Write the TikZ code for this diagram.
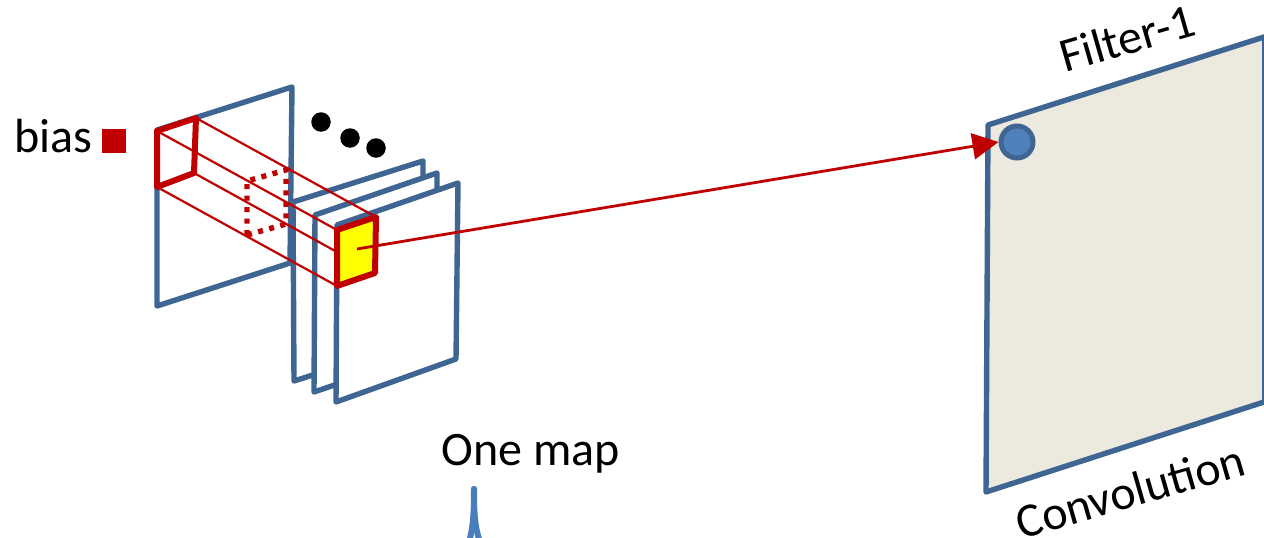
\documentclass[tikz,border=0pt]{standalone}
\usepackage{fontspec}
\setmainfont{Carlito}
\usetikzlibrary{arrows.meta}
\definecolor{planeblue}{HTML}{3F6592}
\definecolor{spikeblue}{HTML}{4A7EBB}
\definecolor{dotblue}{HTML}{4F81BD}
\definecolor{redc}{HTML}{C00000}
\definecolor{paper}{HTML}{ECE9DF}
\definecolor{cellyellow}{HTML}{FFFF00}
\tikzset{
  plane/.style={draw=planeblue,line width=5.4pt,line join=round,fill=white},
  planeline/.style={draw=planeblue,line width=5.4pt,line cap=round,line join=round},
  thick red/.style={draw=redc,line width=6pt,line join=round},
  thin red/.style={draw=redc,line width=2.2pt},
  dotted red/.style={draw=redc,line width=5.4pt,dash pattern=on 5pt off 6.5pt},
  ball/.style={circle,fill=black,inner sep=0pt,minimum size=19.5pt},
  lbl/.style={font=\fontsize{48}{48}\selectfont,inner sep=0pt,text=black}
}
\begin{document}
\begin{tikzpicture}[x=1pt,y=-1pt]
\useasboundingbox (0,0) rectangle (1264,538);
\clip (0,0) rectangle (1264,538);
% big plane
\fill[paper] (988,125) -- (1264,37) -- (1264,402) -- (986,492) -- cycle;
\draw[planeline] (1264,37) -- (988,125) -- (986,492) -- (1264,402);
\draw[draw=planeblue,line width=3pt] (1263,37) -- (1263,402);
% left planes
\draw[plane,fill=none] (157,130) -- (292,87) -- (290,263) -- (157,306) -- cycle;
\draw[plane] (293,202) -- (423,161) -- (423,340) -- (294,381) -- cycle;
\draw[plane] (315,215) -- (437,173) -- (437,350) -- (314,392) -- cycle;
\draw[plane] (337,225) -- (458,183) -- (456,359) -- (336,402) -- cycle;
% dots
\node[ball] (d1) at (321,122) {};
\node[ball] (d2) at (350,138) {};
\node[ball] (d3) at (376,148) {};
% corners of the receptive field and of the target cell
\coordinate (sTL) at (157,131);
\coordinate (sTR) at (196,118);
\coordinate (sBR) at (194,173);
\coordinate (sBL) at (157,187);
\coordinate (yTL) at (337,230);
\coordinate (yTR) at (376,217);
\coordinate (yBR) at (375,273);
\coordinate (yBL) at (337,286);
\draw[thin red] (sTL) -- (yTL);
\draw[thin red] (sTR) -- (yTR);
\draw[thin red] (sBR) -- (yBR);
\draw[thin red] (sBL) -- (yBL);
\draw[thick red] (sTL) -- (sTR) -- (sBR) -- (sBL) -- cycle;
\draw[dotted red] (247,235) -- (247,181) -- (286,170) -- (286,224) -- cycle;
\draw[thick red,fill=cellyellow] (yTL) -- (yTR) -- (yBR) -- (yBL) -- cycle;
% circle and arrow
\node[circle,draw=planeblue,fill=dotblue,line width=5pt,inner sep=0pt,minimum size=32pt] (unit) at (1017,142) {};
\coordinate (src) at (357,249);
\draw[draw=redc,line width=2.8pt,-{Triangle[length=26pt,width=26pt]}] (src) -- (unit.west);
% brace tip
\draw[draw=spikeblue,line width=6pt,line cap=round] (474,489) .. controls (474,515) and (473,528) .. (469,542);
\draw[draw=spikeblue,line width=6pt,line cap=round] (474,489) .. controls (474,515) and (475,528) .. (480,542);
% bias
\node[lbl,anchor=base west] (bias) at (14,152) {bias};
\node[fill=redc,inner sep=0pt,minimum size=24pt] (biasbox) at (114,141) {};
% labels
\node[lbl,anchor=base] (onemap) at (531,465) {One map};
\node[lbl,rotate=16] (filter) at (1127,38) {Filter-1};
\node[lbl,rotate=16] (conv) at (1130,491) {Convolution};
\end{tikzpicture}
\end{document}
